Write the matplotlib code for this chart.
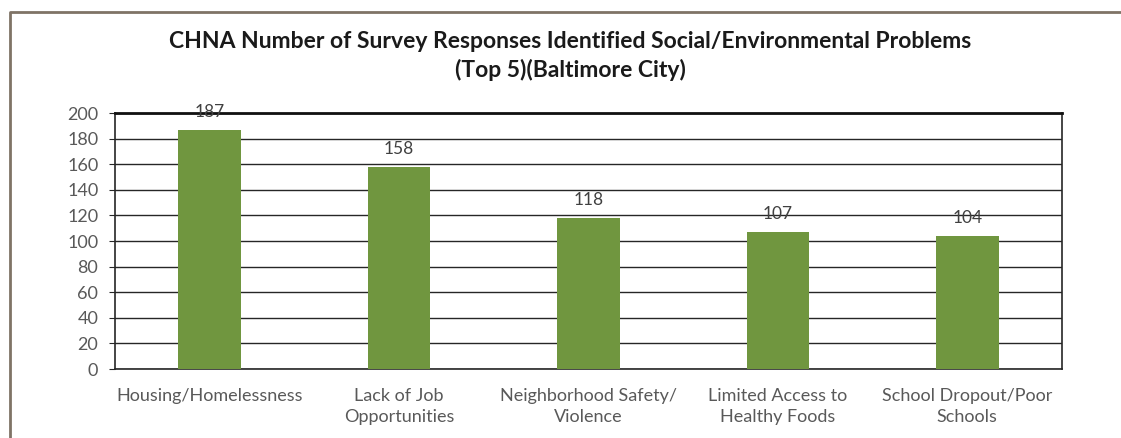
import numpy as np
import matplotlib.pyplot as plt
from matplotlib.lines import Line2D

categories = ['Housing/Homelessness', 'Lack of Job\nOpportunities', 'Neighborhood Safety/\nViolence',
              'Limited Access to\nHealthy Foods', 'School Dropout/Poor\nSchools']
counts = [187, 158, 118, 107, 104]
yticks = [0, 20, 40, 60, 80, 100, 120, 140, 160, 180, 200]

plt.rcParams['font.family'] = ['Lato', 'DejaVu Sans']

fig = plt.figure(figsize=(11.21, 4.38), dpi=100)
ax = fig.add_axes([115 / 1121, 1 - 369 / 438, (1062 - 115) / 1121, (369 - 113) / 438])

x = np.arange(len(categories))
ax.bar(x, counts, width=0.33, color='#70963f', zorder=3)
for xi, v in zip(x, counts):
    ax.annotate(str(v), (xi, v), xytext=(0, 7), textcoords='offset points',
                ha='center', va='bottom', fontsize=12.5, color='#404040', zorder=4)

ax.set_xlim(-0.5, len(categories) - 0.5)
ax.set_ylim(0, 200)
ax.set_yticks(yticks)
ax.yaxis.grid(True, color='#262626', linewidth=1.0, zorder=0)
ax.set_xticks(x)
ax.set_xticklabels(categories, fontsize=13, color='#595959', linespacing=1.35)
ax.tick_params(axis='y', labelsize=13, labelcolor='#595959', length=4, color='#262626', pad=8)
ax.tick_params(axis='x', length=0, pad=14)
for side in ['left', 'right', 'bottom']:
    ax.spines[side].set_color('#262626')
    ax.spines[side].set_linewidth(1.2)
ax.spines['top'].set_color('#111111')
ax.spines['top'].set_linewidth(2.0)

fig.text(0.509, 1 - 56 / 438, 'CHNA Number of Survey Responses Identified Social/Environmental Problems\n(Top 5)(Baltimore City)',
         ha='center', va='center', fontsize=16.5, fontweight='bold', color='#1a1a1a', linespacing=1.35)

# outer chart border, only left and top are in view
bx, by = 10 / 1121, 1 - 12 / 438
fig.add_artist(Line2D([bx, bx, 1.0], [0.0, by, by], transform=fig.transFigure,
                      color='#7f7366', linewidth=2.0))

fig.savefig('out.png', dpi=100)
